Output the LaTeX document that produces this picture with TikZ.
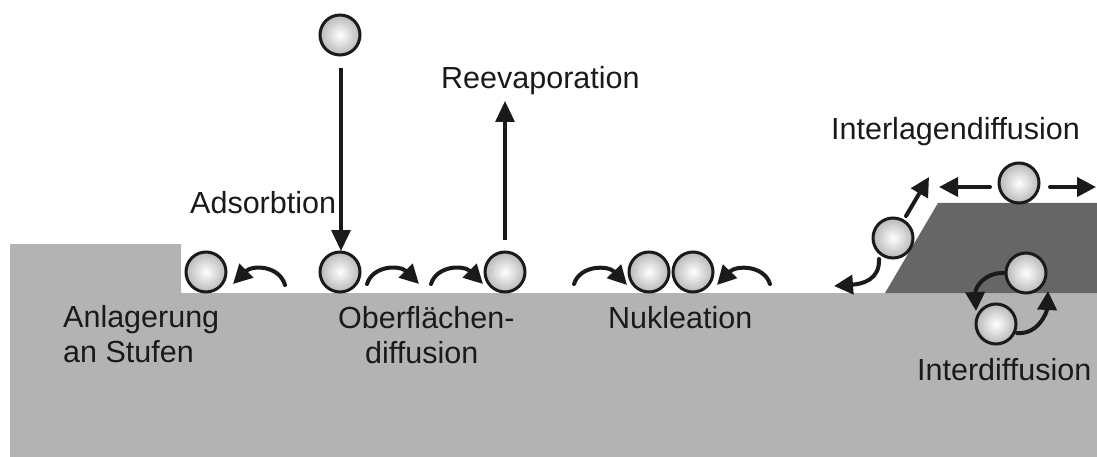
\documentclass[tikz,border=0pt]{standalone}
\usepackage{fontspec}
\setmainfont{Liberation Sans}
\usetikzlibrary{arrows.meta}
\definecolor{substrate}{HTML}{B3B3B3}
\definecolor{film}{HTML}{666666}
\definecolor{ink}{HTML}{1A1A1A}
\tikzset{
  atom/.style={circle, draw=ink, line width=3pt, minimum size=40pt, inner sep=0pt,
    inner color=white, outer color=black!28},
  label/.style={anchor=base west, inner sep=0pt, text=ink,
    font=\fontsize{30.5}{36}\selectfont},
  straight/.style={draw=ink, line width=3.3pt,
    -{Triangle[length=21pt,width=19pt]}},
  hop/.style={draw=ink, line width=4pt, line cap=round,
    -{Triangle[length=19pt,width=19pt]}},
}
\begin{document}
\begin{tikzpicture}[x=1pt,y=-1pt]
\useasboundingbox (0,0) rectangle (1097,457);

% substrate with step edge
\fill[substrate] (10,244) -- (181,244) -- (181,293) -- (1097,293)
  -- (1097,457) -- (10,457) -- cycle;
% grown island with sloped flank
\fill[film] (885,293) -- (938,203) -- (1097,203) -- (1097,293) -- cycle;

% atoms
\node[atom] (bTop)   at (340,35)  {};
\node[atom] (bStep)  at (206,272) {};
\node[atom] (bAds)   at (340,272) {};
\node[atom] (bReev)  at (505,272) {};
\node[atom] (bN1)    at (649,272) {};
\node[atom] (bN2)    at (693,272) {};
\node[atom] (bSlope) at (893,238) {};
\node[atom] (bTerr)  at (1019,183) {};
\node[atom] (bIup)   at (1026,273) {};
\node[atom] (bIlow)  at (996,324) {};

% arrow end points
\coordinate (adsS) at (341,68);   \coordinate (adsT) at (341,251);
\coordinate (reeS) at (505,240);  \coordinate (reeT) at (505,101);
\coordinate (stS) at (285,285);   \coordinate (stT) at (233,284);
\coordinate (o1S) at (367,284);   \coordinate (o1T) at (419,284);
\coordinate (o2S) at (431,284);   \coordinate (o2T) at (483,284);
\coordinate (n1S) at (574,284);   \coordinate (n1T) at (627,285);
\coordinate (n2S) at (770,284);   \coordinate (n2T) at (717,285);
\coordinate (slS) at (906,216);   \coordinate (slT) at (929,177);
\coordinate (sdS) at (879,259);   \coordinate (sdT) at (834,286);
\coordinate (tlS) at (990,187);   \coordinate (tlT) at (939,187);
\coordinate (trS) at (1050,187);  \coordinate (trT) at (1096,187);
\coordinate (i1S) at (1005,273);  \coordinate (i1T) at (976,311);
\coordinate (i2S) at (1017,333);  \coordinate (i2T) at (1048,291);

% adsorption and reevaporation
\draw[straight] (adsS) -- (adsT);
\draw[straight] (reeS) -- (reeT);

% surface hops
\draw[hop] (stS) .. controls (279,265) and (252,265) .. (stT);
\draw[hop] (o1S) .. controls (373,265) and (400,265) .. (o1T);
\draw[hop] (o2S) .. controls (437,265) and (464,265) .. (o2T);
\draw[hop] (n1S) .. controls (580,265) and (608,265) .. (n1T);
\draw[hop] (n2S) .. controls (764,265) and (736,265) .. (n2T);

% interlayer diffusion
\draw[hop] (slS) -- (slT);
\draw[hop] (sdS) .. controls (880,280) and (862,284) .. (sdT);
\draw[hop] (tlS) -- (tlT);
\draw[hop] (trS) -- (trT);

% interdiffusion exchange
\draw[hop] (i1S) .. controls (984,272) and (975,288) .. (i1T);
\draw[hop] (i2S) .. controls (1038,335) and (1047,312) .. (i2T);

% labels
\node[label] (tRee)  at (441,89)  {Reevaporation};
\node[label] (tAds)  at (190,213) {Adsorbtion};
\node[label] (tIl)   at (831,140) {Interlagendiffusion};
\node[label] (tAn1)  at (63,327)  {Anlagerung};
\node[label] (tAn2)  at (63,362)  {an Stufen};
\node[label] (tOb1)  at (338,328) {Oberflächen-};
\node[label] (tOb2)  at (365,363) {diffusion};
\node[label] (tNuk)  at (608,328) {Nukleation};
\node[label] (tInt)  at (917,380) {Interdiffusion};
\end{tikzpicture}
\end{document}
